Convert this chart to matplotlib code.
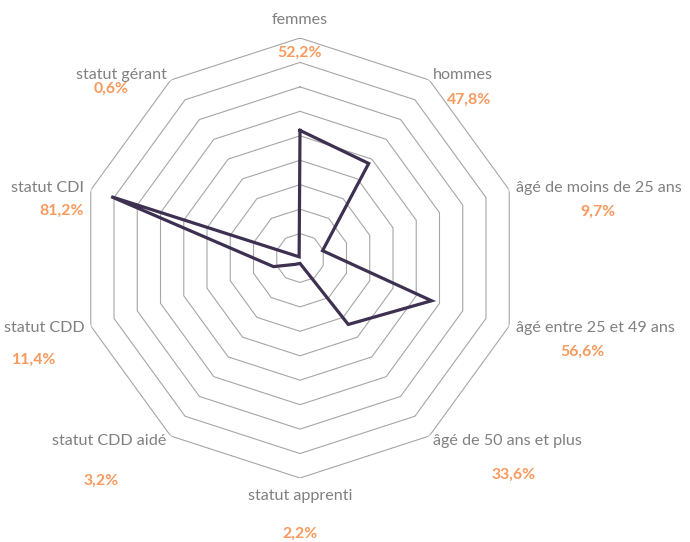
import numpy as np
import matplotlib
matplotlib.use("Agg")
from matplotlib import pyplot as plt

categories = ['femmes', 'hommes', 'âgé de moins de 25 ans', 'âgé entre 25 et 49 ans',
              'âgé de 50 ans et plus', 'statut apprenti', 'statut CDD aidé',
              'statut CDD', 'statut CDI', 'statut gérant']
values = [52.2, 47.8, 9.7, 56.6, 33.6, 2.2, 3.2, 11.4, 81.2, 0.6]
value_labels = ['52,2%', '47,8%', '9,7%', '56,6%', '33,6%', '2,2%', '3,2%', '11,4%', '81,2%', '0,6%']
levels = [10, 20, 30, 40, 50, 60, 70, 80, 90]

# where each value label sits relative to its category name (px)
gaps = [33, 25, 24, 24, 33, 38, 39, 32, 23, 14]
shifts = [0, 6, 0, -13, 6, 0, -9, -10, 14, -10]

plt.rcParams['font.family'] = ['Lato', 'DejaVu Sans']

fig = plt.figure(figsize=(6.9, 5.42), dpi=100)
ax = fig.add_axes([80 / 690, 64 / 542, 440 / 690, 440 / 542], projection='polar')
ax.set_theta_zero_location('N')
ax.set_theta_direction(-1)

n = len(categories)
angles = np.arange(n) * 2 * np.pi / n
closed = np.append(angles, angles[0])

# decagon grid
for lv in levels:
    ax.plot(closed, [lv] * (n + 1), color='#a6a6a6', lw=0.8, zorder=1)

ax.plot(closed, values + values[:1], color='#3d3050', lw=2.3, zorder=3,
        solid_joinstyle='miter')

ax.set_ylim(0, max(levels))
ax.grid(False)
ax.spines['polar'].set_visible(False)
ax.set_xticks([])
ax.set_yticks([])
ax.patch.set_alpha(0)

for a, name, vl, gap, dx in zip(angles, categories, value_labels, gaps, shifts):
    s, c = np.sin(a), np.cos(a)
    if s > 0.1:
        ha = 'left'
    elif s < -0.1:
        ha = 'right'
    else:
        ha = 'center'
    if abs(s) <= 0.1:
        va = 'bottom' if c > 0 else 'top'
        r_lab = max(levels) * 1.05
    else:
        va = 'center'
        r_lab = max(levels) * 1.03
    t = ax.text(a, r_lab, name, ha=ha, va=va, color='#808080', fontsize=11.6,
                clip_on=False)
    ax.annotate(vl, xy=(0.5, 0.5), xycoords=t, xytext=(dx * 0.72, -gap * 0.72),
                textcoords='offset points', ha='center', va='center',
                color='#f79a5e', fontsize=11.4, fontweight='bold',
                annotation_clip=False)

fig.savefig('out.png', dpi=100)
